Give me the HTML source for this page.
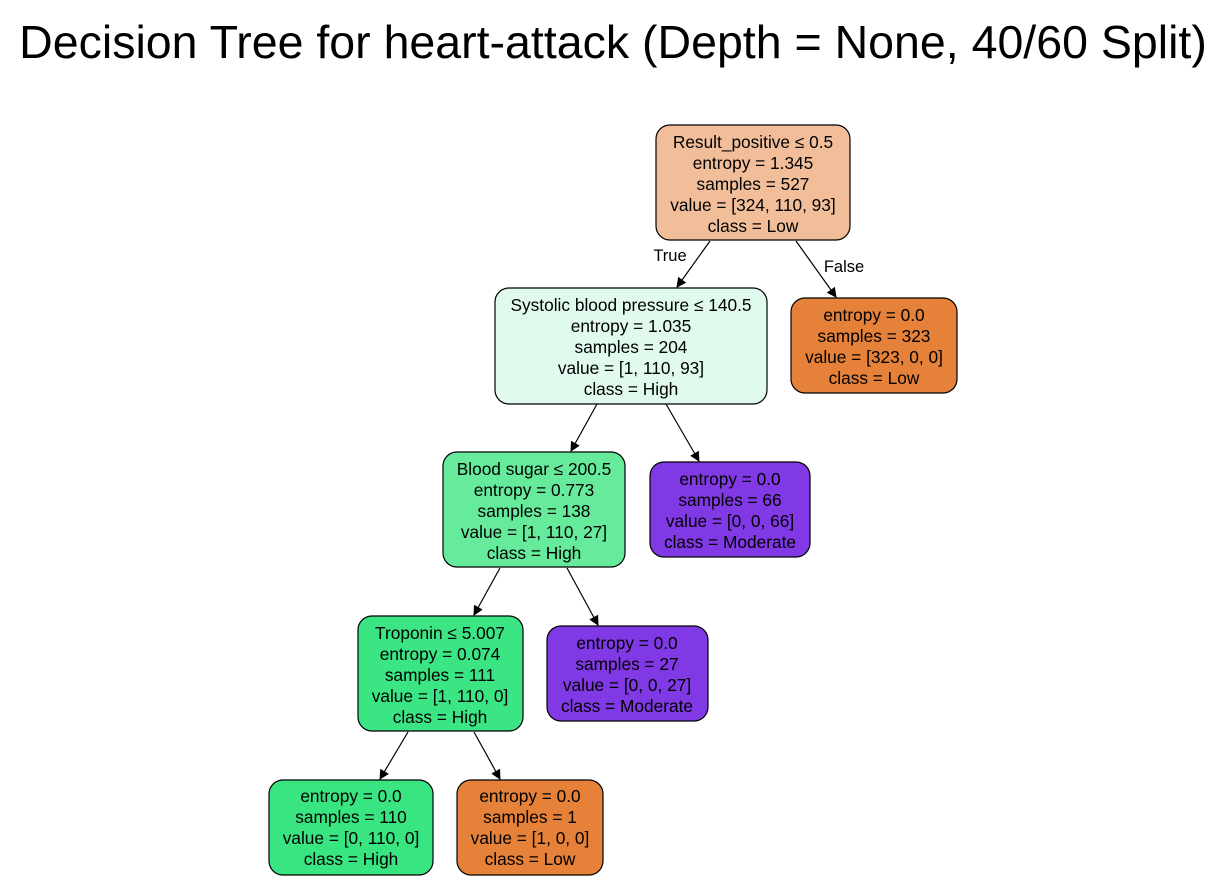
<!DOCTYPE html>
<html><head><style>body{margin:0;background:#fff}svg{display:block}</style></head><body>
<svg width="1226" height="880" xmlns="http://www.w3.org/2000/svg" font-family="Liberation Sans, Arial, sans-serif">
<defs><marker id="a" markerWidth="10" markerHeight="10" refX="9" refY="5" orient="auto" markerUnits="userSpaceOnUse"><path d="M0,0 L10,5 L0,10 z" fill="#000"/></marker></defs>
<text x="613" y="58" font-size="46.5" text-anchor="middle">Decision Tree for heart-attack (Depth = None, 40/60 Split)</text>
<g stroke="#000" stroke-width="1.2" marker-end="url(#a)">
<line x1="710" y1="241" x2="677" y2="287"/>
<line x1="796" y1="241" x2="836" y2="297"/>
<line x1="597" y1="404" x2="571" y2="451"/>
<line x1="666" y1="404" x2="699" y2="461"/>
<line x1="500" y1="568" x2="474" y2="615"/>
<line x1="567" y1="568" x2="598" y2="625"/>
<line x1="408" y1="732" x2="380" y2="779"/>
<line x1="474" y1="732" x2="500" y2="779"/>
</g>
<text x="670" y="261" font-size="16.5" text-anchor="middle">True</text>
<text x="844" y="272" font-size="16.5" text-anchor="middle">False</text>
<g stroke="#000" stroke-width="1.2">
<rect x="656" y="125" width="194" height="115" rx="14" fill="#f2be9a"/>
<rect x="495" y="288" width="272" height="116" rx="14" fill="#e1faee"/>
<rect x="791" y="298" width="166" height="95" rx="14" fill="#e58139"/>
<rect x="443" y="452" width="182" height="115" rx="14" fill="#66eb9c"/>
<rect x="650" y="462" width="160" height="95" rx="14" fill="#8139e5"/>
<rect x="358" y="616" width="165" height="115" rx="14" fill="#3be584"/>
<rect x="547" y="626" width="161" height="95" rx="14" fill="#8139e5"/>
<rect x="269" y="780" width="164" height="95" rx="14" fill="#39e581"/>
<rect x="457" y="780" width="146" height="95" rx="14" fill="#e58139"/>
</g>
<g font-size="17.3" text-anchor="middle" fill="#000">
<text x="753" y="148">Result_positive ≤ 0.5</text><text x="753" y="169">entropy = 1.345</text><text x="753" y="190">samples = 527</text><text x="753" y="211">value = [324, 110, 93]</text><text x="753" y="232">class = Low</text>
<text x="631" y="311">Systolic blood pressure ≤ 140.5</text><text x="631" y="332">entropy = 1.035</text><text x="631" y="353">samples = 204</text><text x="631" y="374">value = [1, 110, 93]</text><text x="631" y="395">class = High</text>
<text x="874" y="321">entropy = 0.0</text><text x="874" y="342">samples = 323</text><text x="874" y="363">value = [323, 0, 0]</text><text x="874" y="384">class = Low</text>
<text x="534" y="475">Blood sugar ≤ 200.5</text><text x="534" y="496">entropy = 0.773</text><text x="534" y="517">samples = 138</text><text x="534" y="538">value = [1, 110, 27]</text><text x="534" y="559">class = High</text>
<text x="730" y="485">entropy = 0.0</text><text x="730" y="506">samples = 66</text><text x="730" y="527">value = [0, 0, 66]</text><text x="730" y="548">class = Moderate</text>
<text x="440" y="639">Troponin ≤ 5.007</text><text x="440" y="660">entropy = 0.074</text><text x="440" y="681">samples = 111</text><text x="440" y="702">value = [1, 110, 0]</text><text x="440" y="723">class = High</text>
<text x="627" y="649">entropy = 0.0</text><text x="627" y="670">samples = 27</text><text x="627" y="691">value = [0, 0, 27]</text><text x="627" y="712">class = Moderate</text>
<text x="351" y="802">entropy = 0.0</text><text x="351" y="823">samples = 110</text><text x="351" y="844">value = [0, 110, 0]</text><text x="351" y="865">class = High</text>
<text x="530" y="802">entropy = 0.0</text><text x="530" y="823">samples = 1</text><text x="530" y="844">value = [1, 0, 0]</text><text x="530" y="865">class = Low</text>
</g>
</svg>
</body></html>
